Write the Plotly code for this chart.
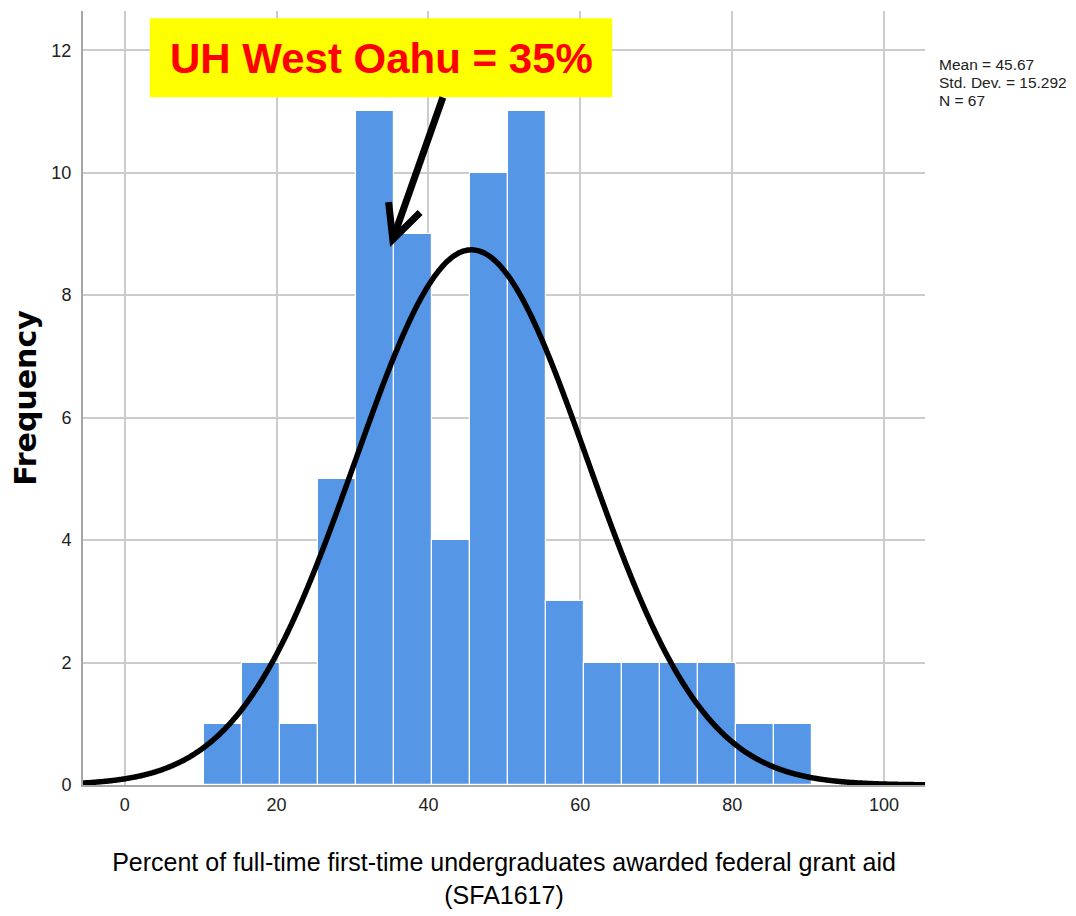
import numpy as np
import plotly.graph_objects as go

# ---- data ----
bin_start = 10.5
bin_width = 5
frequencies = [1, 2, 1, 5, 11, 9, 4, 10, 11, 3, 2, 2, 2, 2, 1, 1]
x_ticks = [0, 20, 40, 60, 80, 100]
y_ticks = [0, 2, 4, 6, 8, 10, 12]
mean_val = 45.67
sd_val = 15.292
n_val = 67
stats_lines = ["Mean = 45.67", "Std. Dev. = 15.292", "N = 67"]
callout_text = "UH West Oahu = 35%"
x_title = "Percent of full-time first-time undergraduates awarded federal grant aid<br>(SFA1617)"
y_title = "Frequency"

bin_centers = [bin_start + bin_width * (i + 0.5) for i in range(len(frequencies))]

# fitted normal curve (from the displayed mean, sd, N)
x_min, x_max = -5.5, 105.4
xc = np.linspace(x_min, x_max, 600)
yc = n_val * bin_width / (sd_val * np.sqrt(2 * np.pi)) * np.exp(-0.5 * ((xc - mean_val) / sd_val) ** 2)

FONT = "Liberation Sans, Arial, sans-serif"

fig = go.Figure()
fig.add_trace(go.Bar(
    x=bin_centers, y=frequencies, width=[bin_width] * len(frequencies),
    marker=dict(color="#5596E6", line=dict(color="white", width=1.2)),
    showlegend=False, hoverinfo="x+y",
))
fig.add_trace(go.Scatter(
    x=xc, y=yc, mode="lines", line=dict(color="black", width=5.5, shape="spline"),
    showlegend=False, hoverinfo="skip",
))

# callout box
fig.add_shape(type="rect", xref="x", yref="y", x0=3.3, x1=64.2, y0=11.23, y1=12.52,
              fillcolor="#FFFF00", line=dict(width=0), layer="above")
fig.add_annotation(x=33.75, y=11.87, xref="x", yref="y", text="<b>" + callout_text + "</b>",
                   showarrow=False, font=dict(family=FONT, size=42, color="#FF0000"))
# arrow
fig.add_shape(type="path", xref="x", yref="y",
              path="M 41.9,11.23 L 35.3,8.91", line=dict(color="black", width=7), layer="above")
fig.add_shape(type="path", xref="x", yref="y",
              path="M 34.75,9.52 L 35.3,8.91 L 38.9,9.35", line=dict(color="black", width=7), layer="above")

# stats text
for i, line in enumerate(stats_lines):
    fig.add_annotation(x=1.014, y=0.944 - i * 0.0233, xref="paper", yref="paper",
                       xanchor="left", yanchor="top", text=line, showarrow=False,
                       font=dict(family=FONT, size=15.5, color="#222222"))

fig.update_layout(
    width=1068, height=908,
    margin=dict(l=75, r=151, t=3, b=131),
    paper_bgcolor="white", plot_bgcolor="white",
    bargap=0,
    font=dict(family=FONT, color="#222222"),
    xaxis=dict(
        range=[x_min, x_max], tickvals=x_ticks, showgrid=True, gridcolor="#cccccc", gridwidth=1.5,
        zeroline=False, showline=True, linecolor="#a6a6a6", linewidth=2,
        ticks="", tickfont=dict(family=FONT, size=18, color="#222222"), ticklabelstandoff=2,
        title=dict(text=x_title, font=dict(family=FONT, size=25, color="black"), standoff=40),
    ),
    yaxis=dict(
        range=[0, 12.64], tickvals=y_ticks, showgrid=True, gridcolor="#cccccc", gridwidth=1.5,
        zeroline=False, showline=True, linecolor="#a6a6a6", linewidth=2,
        ticks="", tickfont=dict(family=FONT, size=18, color="#222222"), ticklabelstandoff=6,
        title=dict(text="<b>" + y_title + "</b>", font=dict(family="DejaVu Sans", size=30, color="black"),
                   standoff=16),
    ),
)

fig.write_html("out.html")
